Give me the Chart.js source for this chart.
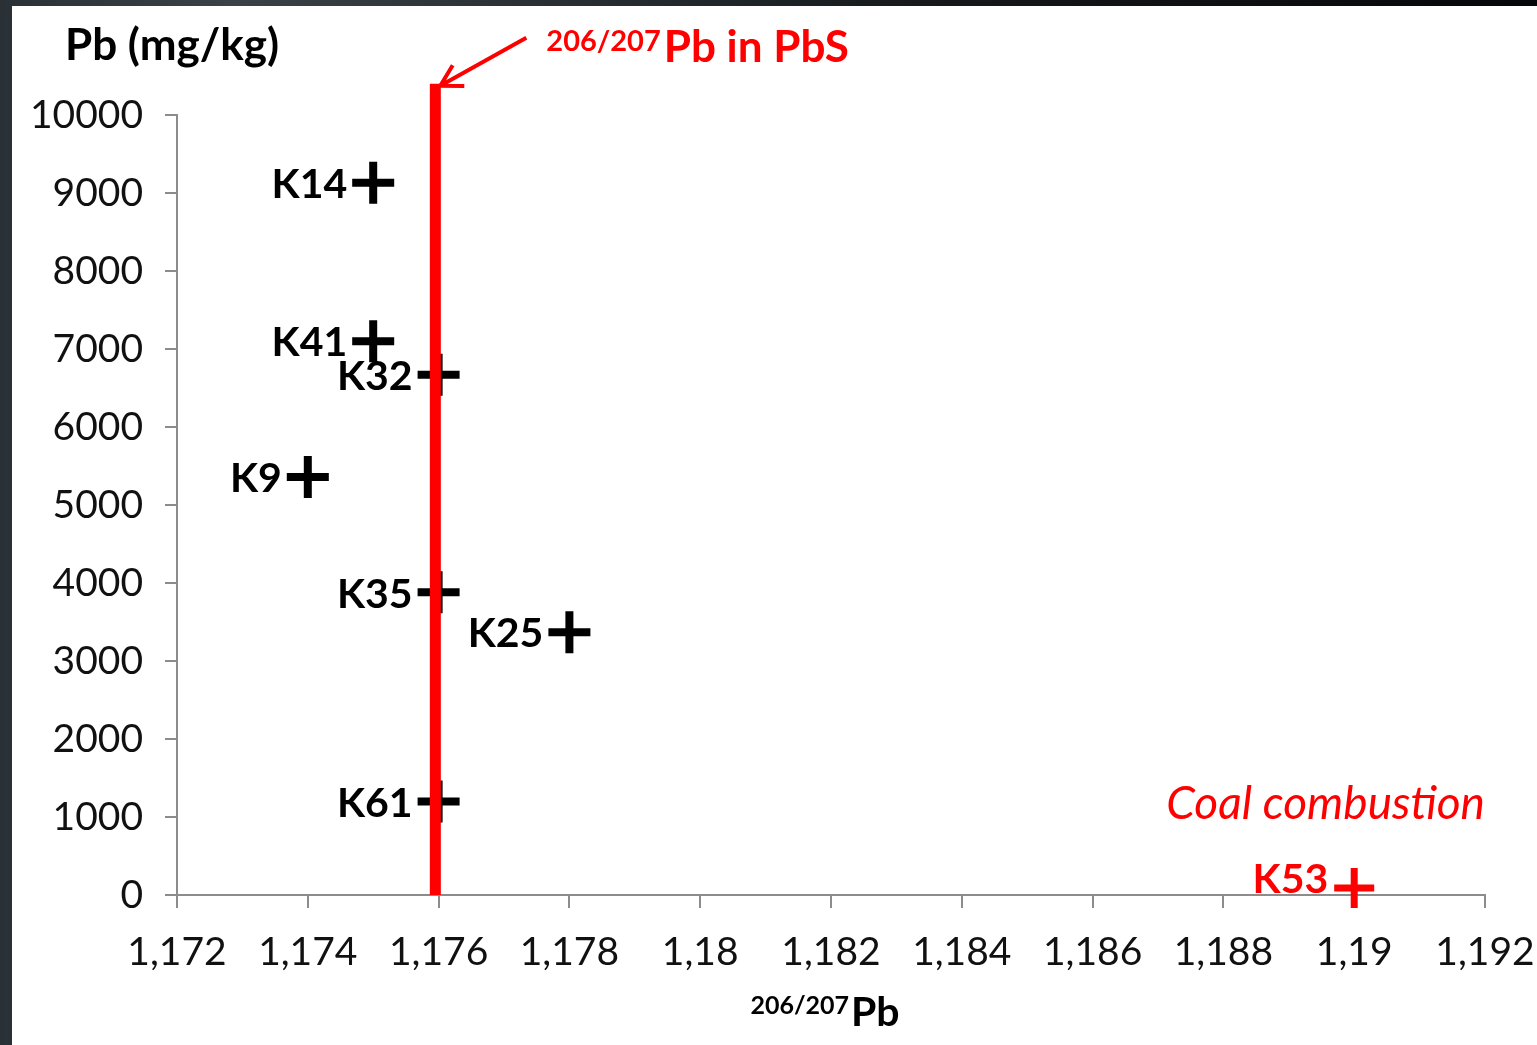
<!DOCTYPE html>
<html>
<head>
<meta charset="utf-8">
<script src="https://cdn.jsdelivr.net/npm/chart.js@4.4.1/dist/chart.umd.min.js"></script>
<style>
  html, body { margin: 0; padding: 0; }
  body {
    width: 1537px; height: 1045px; overflow: hidden;
    background: linear-gradient(90deg, #2a3136 0%, #3a4247 15%, #15191c 60%, #050607 100%);
    position: relative;
  }
  #wrap { position: absolute; left: 12px; top: 6px; width: 1525px; height: 1039px; background: #ffffff; }
  canvas { display: block; }
</style>
</head>
<body>
<div id="wrap"><canvas id="c" width="1525" height="1039"></canvas></div>
<script>
// ---- data ----
const sampleNames = ['K14', 'K41', 'K32', 'K9', 'K35', 'K25', 'K61'];
const sampleRatio = [1.175, 1.175, 1.176, 1.174, 1.176, 1.178, 1.176];
const samplePb    = [9130, 7100, 6670, 5360, 3880, 3370, 1200];

const coalNames = ['K53'];
const coalRatio = [1.190];
const coalPb    = [90];

const pbsRatio = 1.17595;         // 206/207Pb in PbS (vertical red line)
const pbsLineY = [0, 10400];      // extent of the vertical line

const xTickValues = [1.172, 1.174, 1.176, 1.178, 1.18, 1.182, 1.184, 1.186, 1.188, 1.19, 1.192];
const xTickLabels = ['1,172', '1,174', '1,176', '1,178', '1,18', '1,182', '1,184', '1,186', '1,188', '1,19', '1,192'];
const yTickValues = [0, 1000, 2000, 3000, 4000, 5000, 6000, 7000, 8000, 9000, 10000];
const yTickLabels = ['0', '1000', '2000', '3000', '4000', '5000', '6000', '7000', '8000', '9000', '10000'];

const yAxisTitle = 'Pb (mg/kg)';
const xAxisTitleSup = '206/207';
const xAxisTitleMain = 'Pb';
const lineTitleSup = '206/207';
const lineTitleMain = 'Pb in PbS';
const coalText = 'Coal combustion';

// ---- build datasets ----
const samplePoints = sampleNames.map((n, i) => ({ x: sampleRatio[i], y: samplePb[i], name: n }));
const coalPoints = coalNames.map((n, i) => ({ x: coalRatio[i], y: coalPb[i], name: n }));
const pbsLine = pbsLineY.map(v => ({ x: pbsRatio, y: v }));

const FONT = 'Lato, "Open Sans", "DejaVu Sans", sans-serif';
const GRAY = '#8c8c8c';
const RED = '#ff0000';

const annotPlugin = {
  id: 'annot',
  afterDatasetsDraw(chart) {
    const ctx = chart.ctx;
    const xs = chart.scales.x, ys = chart.scales.y;
    ctx.save();
    // point labels
    ctx.textAlign = 'right';
    ctx.textBaseline = 'middle';
    ctx.font = 'bold 41px ' + FONT;
    chart.data.datasets.forEach((ds) => {
      if (!ds.pointLabels) return;
      ctx.fillStyle = ds.labelColor;
      const dy = ds.labelDy || 0;
      ds.data.forEach(p => {
        const px = xs.getPixelForValue(p.x), py = ys.getPixelForValue(p.y);
        ctx.fillText(p.name, px - 26, py + 2 + dy);
      });
    });

    // arrow pointing to top of the PbS line
    const tipX = xs.getPixelForValue(pbsRatio) + 5;
    const tipY = ys.getPixelForValue(pbsLineY[1]) + 2;
    const tailX = tipX + 86, tailY = tipY - 48;
    ctx.strokeStyle = RED;
    ctx.lineWidth = 4;
    ctx.lineCap = 'butt';
    ctx.beginPath();
    ctx.moveTo(tailX, tailY); ctx.lineTo(tipX, tipY);
    const ang = Math.atan2(tailY - tipY, tailX - tipX);
    const L = 24;
    ctx.moveTo(tipX + L * Math.cos(ang - 0.52), tipY + L * Math.sin(ang - 0.52));
    ctx.lineTo(tipX, tipY);
    ctx.lineTo(tipX + L * Math.cos(ang + 0.52), tipY + L * Math.sin(ang + 0.52));
    ctx.stroke();

    // red title next to arrow
    ctx.textAlign = 'left';
    ctx.textBaseline = 'alphabetic';
    ctx.fillStyle = RED;
    ctx.font = 'bold 29px ' + FONT;
    const supX = tailX + 20;
    ctx.fillText(lineTitleSup, supX, 45);
    const sw = ctx.measureText(lineTitleSup).width;
    ctx.font = 'bold 44px ' + FONT;
    ctx.fillText(lineTitleMain, supX + sw + 3, 56);

    // coal combustion
    ctx.font = 'italic 46px ' + FONT;
    ctx.textAlign = 'right';
    ctx.fillText(coalText, xs.right, 813);

    // y axis title
    ctx.fillStyle = '#000';
    ctx.textAlign = 'left';
    ctx.font = 'bold 44px ' + FONT;
    ctx.fillText(yAxisTitle, 53, 54);

    // x axis title with superscript
    ctx.font = 'bold 25px ' + FONT;
    const s2 = ctx.measureText(xAxisTitleSup).width;
    ctx.font = 'bold 41px ' + FONT;
    const m2 = ctx.measureText(xAxisTitleMain).width;
    const cx = (xs.left + xs.right) / 2;
    const startX = cx - (s2 + m2 + 2) / 2 - 6;
    ctx.font = 'bold 25px ' + FONT;
    ctx.fillText(xAxisTitleSup, startX, 1008);
    ctx.font = 'bold 41px ' + FONT;
    ctx.fillText(xAxisTitleMain, startX + s2 + 2, 1020);
    ctx.restore();
  }
};

new Chart(document.getElementById('c'), {
  type: 'scatter',
  data: {
    datasets: [
      {
        label: 'PbS',
        data: pbsLine,
        showLine: true,
        borderColor: RED,
        borderWidth: 11,
        pointRadius: 0,
        clip: false,
        order: 0
      },
      {
        label: 'Samples',
        data: samplePoints,
        pointStyle: 'cross',
        pointRadius: 21,
        borderWidth: 8,
        pointBorderWidth: 8,
        borderColor: '#000',
        backgroundColor: '#000',
        pointLabels: true,
        labelColor: '#000',
        order: 1
      },
      {
        label: 'Coal combustion',
        data: coalPoints,
        pointStyle: 'cross',
        pointRadius: 20,
        borderWidth: 7,
        pointBorderWidth: 7,
        borderColor: RED,
        backgroundColor: RED,
        pointLabels: true,
        labelColor: RED,
        labelDy: -10,
        clip: false,
        order: 1
      }
    ]
  },
  options: {
    responsive: false,
    animation: false,
    layout: { padding: { left: 0, top: 109, right: 52, bottom: 0 } },
    plugins: { legend: { display: false }, tooltip: { enabled: false } },
    scales: {
      x: {
        type: 'linear',
        min: xTickValues[0],
        max: xTickValues[xTickValues.length - 1],
        afterBuildTicks: s => { s.ticks = xTickValues.map(v => ({ value: v })); },
        afterFit: s => { s.height = 150; s.paddingLeft = 0; s.paddingRight = 0; },
        border: { color: GRAY, width: 2 },
        grid: { drawOnChartArea: false, tickLength: 13, color: GRAY, lineWidth: 2 },
        ticks: {
          autoSkip: false,
          maxRotation: 0,
          padding: 21,
          color: '#111',
          font: { family: FONT, size: 39 },
          callback: (v, i) => xTickLabels[i]
        }
      },
      y: {
        type: 'linear',
        min: yTickValues[0],
        max: yTickValues[yTickValues.length - 1],
        afterBuildTicks: s => { s.ticks = yTickValues.map(v => ({ value: v })); },
        afterFit: s => { s.width = 165; s.paddingTop = 0; s.paddingBottom = 0; },
        border: { color: GRAY, width: 2 },
        grid: { drawOnChartArea: false, tickLength: 12, color: GRAY, lineWidth: 2 },
        ticks: {
          padding: 22,
          color: '#111',
          font: { family: FONT, size: 39 },
          callback: (v, i) => yTickLabels[i]
        }
      }
    }
  },
  plugins: [annotPlugin]
});
</script>
</body>
</html>
